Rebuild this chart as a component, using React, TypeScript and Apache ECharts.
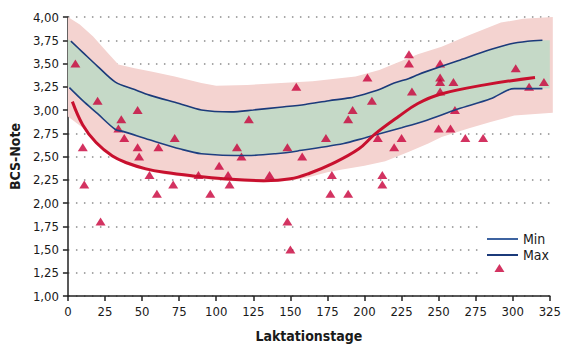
import React, { useEffect, useRef } from "react";
import * as echarts from "echarts";

// ---- Data ----
const maxLine: [number, number][] = [
  [2, 3.74], [10, 3.62], [20, 3.47], [32, 3.30], [45, 3.22], [55, 3.16], [75, 3.07], [90, 3.00],
  [110, 2.98], [125, 3.00], [143, 3.03], [160, 3.06], [176, 3.10], [190, 3.13], [200, 3.17],
  [210, 3.22], [220, 3.29], [230, 3.34], [236, 3.38], [241, 3.41], [263, 3.53], [285, 3.65],
  [298, 3.71], [310, 3.74], [320, 3.75],
];
const minLine: [number, number][] = [
  [1, 3.24], [10, 3.10], [20, 2.96], [32, 2.79], [37, 2.77], [55, 2.68], [76, 2.58], [90, 2.53],
  [121, 2.51], [140, 2.53], [155, 2.56], [186, 2.64], [200, 2.70], [209, 2.74], [225, 2.81],
  [240, 2.88], [263, 3.01], [285, 3.12], [296, 3.21], [301, 3.23], [320, 3.23],
];
const herdCurve: [number, number][] = [
  [3, 3.09], [10, 2.84], [19, 2.65], [30, 2.505], [40, 2.43], [52, 2.37], [65, 2.33], [85, 2.29],
  [105, 2.26], [132, 2.24], [150, 2.26], [163, 2.32], [178, 2.42], [196, 2.58], [207, 2.74],
  [223, 2.93], [236, 3.07], [251, 3.17], [281, 3.27], [315, 3.35],
];
const greenUpper: [number, number][] = [[0, 3.76], ...maxLine, [325, 3.75]];
const greenLower: [number, number][] = [[0, 3.25], ...minLine, [325, 3.23]];
const pinkUpper: [number, number][] = [
  [0, 4.0], [8, 3.92], [17, 3.79], [26, 3.63], [34, 3.49], [45, 3.45], [57, 3.41], [72, 3.36],
  [90, 3.29], [100, 3.26], [121, 3.27], [165, 3.31], [194, 3.36], [210, 3.43], [236, 3.6],
  [252, 3.68], [270, 3.8], [292, 3.94], [307, 3.98], [327, 4.0],
];
const pinkLower: [number, number][] = [
  [0, 2.93], [10, 2.81], [19, 2.63], [30, 2.49], [40, 2.41], [52, 2.35], [65, 2.31], [85, 2.27],
  [105, 2.24], [132, 2.22], [150, 2.24], [163, 2.28], [175, 2.33], [185, 2.36], [200, 2.4],
  [214, 2.45], [230, 2.55], [243, 2.64], [252, 2.71], [270, 2.8], [285, 2.87], [301, 2.94],
  [327, 2.97],
];
const cows: [number, number][] = [
  [5, 3.5], [10, 2.6], [11, 2.2], [22, 1.8], [20, 3.1], [36, 2.9], [34, 2.8], [38, 2.7], [47, 3.0],
  [47, 2.6], [48, 2.5], [61, 2.6], [72, 2.7], [55, 2.3], [60, 2.1], [71, 2.2], [88, 2.3], [96, 2.1],
  [108, 2.3], [109, 2.2], [102, 2.4], [114, 2.6], [117, 2.5], [122, 2.9], [136, 2.3], [148, 2.6],
  [148, 1.8], [150, 1.5], [154, 3.25], [158, 2.5], [174, 2.7], [178, 2.3], [177, 2.1], [189, 2.1],
  [189, 2.9], [192, 3.0], [205, 3.1], [202, 3.35], [209, 2.7], [225, 2.7], [220, 2.6], [212, 2.3],
  [212, 2.2], [230, 3.6], [230, 3.5], [232, 3.2], [251, 3.5], [251, 3.35], [251, 3.3], [251, 3.2],
  [260, 3.3], [302, 3.45], [311, 3.25], [321, 3.3], [261, 3.0], [250, 2.8], [258, 2.8], [268, 2.7],
  [280, 2.7], [291, 1.3],
];
const xAxisRange = { min: 0, max: 325, step: 25 };
const yAxisRange = { min: 1, max: 4, step: 0.25 };
const legendNames = ["Min", "Max"];

const FONT = "'DejaVu Sans Condensed', 'DejaVu Sans', sans-serif";
const TEXT = "#1a1a1a";

export default function App() {
  const ref = useRef<HTMLDivElement>(null);
  useEffect(() => {
    if (!ref.current) return;
    const chart = echarts.init(ref.current, undefined, { renderer: "svg" });
    const poly = (api: any, upper: [number, number][], lower: [number, number][], fill: string) => ({
      type: "polygon",
      shape: {
        points: [
          ...upper.map((p) => api.coord(p)),
          ...lower.slice().reverse().map((p) => api.coord(p)),
        ],
      },
      style: { fill },
    });
    chart.setOption({
      animation: false,
      grid: { left: 65, right: 11, top: 17, bottom: 47 },
      xAxis: {
        type: "value",
        min: xAxisRange.min,
        max: xAxisRange.max,
        interval: xAxisRange.step,
        name: "Laktationstage",
        nameLocation: "middle",
        nameGap: 33,
        nameTextStyle: { fontFamily: FONT, fontSize: 14, fontWeight: "bold", color: TEXT },
        axisLine: { lineStyle: { color: "#222", width: 1.5 } },
        axisTick: { length: 5, lineStyle: { color: "#222", width: 1.5 } },
        axisLabel: { fontFamily: FONT, fontSize: 13, color: TEXT, margin: 9 },
        splitLine: { show: false },
      },
      yAxis: {
        type: "value",
        min: yAxisRange.min,
        max: yAxisRange.max,
        interval: yAxisRange.step,
        name: "BCS-Note",
        nameLocation: "middle",
        nameGap: 45,
        nameTextStyle: { fontFamily: FONT, fontSize: 14, fontWeight: "bold", color: TEXT },
        axisLine: { show: true, lineStyle: { color: "#222", width: 1.5 } },
        axisTick: { show: true, length: 5, lineStyle: { color: "#222", width: 1.5 } },
        axisLabel: {
          fontFamily: FONT,
          fontSize: 13,
          color: TEXT,
          margin: 9,
          formatter: (v: number) => v.toFixed(2).replace(".", ","),
        },
        splitLine: { show: true, lineStyle: { color: "#8c8c8c", width: 1.5, type: [1.5, 6.5] } },
      },
      legend: {
        orient: "vertical",
        left: 479,
        top: 222,
        z: 1,
        backgroundColor: "#ffffff",
        padding: [10, 9, 20, 8],
        itemWidth: 31,
        itemHeight: 2,
        itemGap: 2,
        icon: "rect",
        data: legendNames,
        textStyle: { fontFamily: FONT, fontSize: 14, color: TEXT },
      },
      series: [
        {
          type: "custom",
          silent: true,
          data: [[0, 1]],
          renderItem: (_params: any, api: any) => ({
            type: "group",
            children: [
              poly(api, pinkUpper, pinkLower, "#f4d3d0"),
              poly(api, greenUpper, greenLower, "#c5d9c7"),
            ],
          }),
        },
        {
          name: "Max",
          type: "line",
          data: maxLine,
          smooth: 0.3,
          showSymbol: false,
          color: "#1b3a7a",
          lineStyle: { width: 1.6, color: "#1b3a7a" },
        },
        {
          name: "Min",
          type: "line",
          data: minLine,
          smooth: 0.3,
          showSymbol: false,
          color: "#3d63a0",
          lineStyle: { width: 1.6, color: "#1e3f80" },
        },
        {
          name: "Herde",
          type: "line",
          data: herdCurve,
          smooth: 0.4,
          showSymbol: false,
          lineStyle: { width: 3, color: "#c8102e" },
        },
        {
          name: "Kühe",
          type: "scatter",
          data: cows,
          symbol: "triangle",
          symbolSize: [10, 8],
          itemStyle: { color: "#c8003a" },
        },
      ],
    });
    return () => chart.dispose();
  }, []);
  return (
    <div
      ref={ref}
      style={{ position: "absolute", left: 0, top: 0, width: 564, height: 348 }}
    />
  );
}
